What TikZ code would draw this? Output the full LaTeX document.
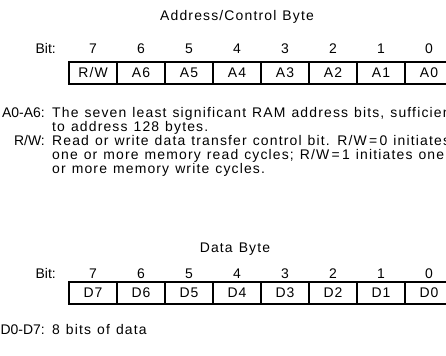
\documentclass[tikz,border=0pt]{standalone}
\usepackage{fontspec}
\setmainfont[LetterSpace=8.3,WordSpace=1.2]{Liberation Sans}
\newfontfamily\labelfont{Liberation Sans}
\usetikzlibrary{positioning}

\begin{document}
\begin{tikzpicture}[x=1bp, y=-1bp,
 font=\fontsize{14}{14}\selectfont,
 bitcell/.style={rectangle, draw=black, line width=1.1bp, minimum width=48bp, minimum height=22bp, inner sep=0pt, outer sep=0pt},
 bitnum/.style={anchor=base, inner sep=0pt},
 headtext/.style={anchor=base, inner sep=0pt},
 desclabel/.style={anchor=base east, inner sep=0pt, font=\labelfont\fontsize{14}{14}\selectfont},
 desctext/.style={anchor=base west, inner sep=0pt},
 ]
 \useasboundingbox (0,0) rectangle (446,355);

 %Address/Control byte
 \node[headtext] (addr_title) at (237,20) {Address/Control Byte};
 \node[desclabel] (addr_bit) at (56,53) {Bit:};
 \foreach \lbl [count=\i from 0, evaluate=\i as \b using int(7-\i)] in {R/W,A6,A5,A4,A3,A2,A1,A0} {
  \node[bitnum] (addr_num\b) at (93+48*\i,53) {\b};
  \node[bitcell] (addr_cell\b) at (93+48*\i,73) {\lbl};
 }

 %Descriptions
 \node[desclabel] (addr_lbl) at (45,117) {A0-A6:};
 \node[desctext] (addr_txt1) at (52,117) {The seven least significant RAM address bits, sufficient};
 \node[desctext] (addr_txt2) at (52,131) {to address 128 bytes.};
 \node[desclabel] (rw_lbl) at (45,145) {R/W:};
 \node[desctext] (rw_txt1) at (52,145) {Read or write data transfer control bit. R/W\,=\,0 initiates};
 \node[desctext] (rw_txt2) at (52,159) {one or more memory read cycles; R/W\,=\,1 initiates one};
 \node[desctext] (rw_txt3) at (52,173) {or more memory write cycles.};

 %Data byte
 \node[headtext] (data_title) at (235,252) {Data Byte};
 \node[desclabel] (data_bit) at (56,278) {Bit:};
 \foreach \lbl [count=\i from 0, evaluate=\i as \b using int(7-\i)] in {D7,D6,D5,D4,D3,D2,D1,D0} {
  \node[bitnum] (data_num\b) at (93+48*\i,278) {\b};
  \node[bitcell] (data_cell\b) at (93+48*\i,293) {\lbl};
 }
 \node[desclabel] (data_lbl) at (45,334) {D0-D7:};
 \node[desctext] (data_txt) at (52,334) {8 bits of data};
\end{tikzpicture}
\end{document}
